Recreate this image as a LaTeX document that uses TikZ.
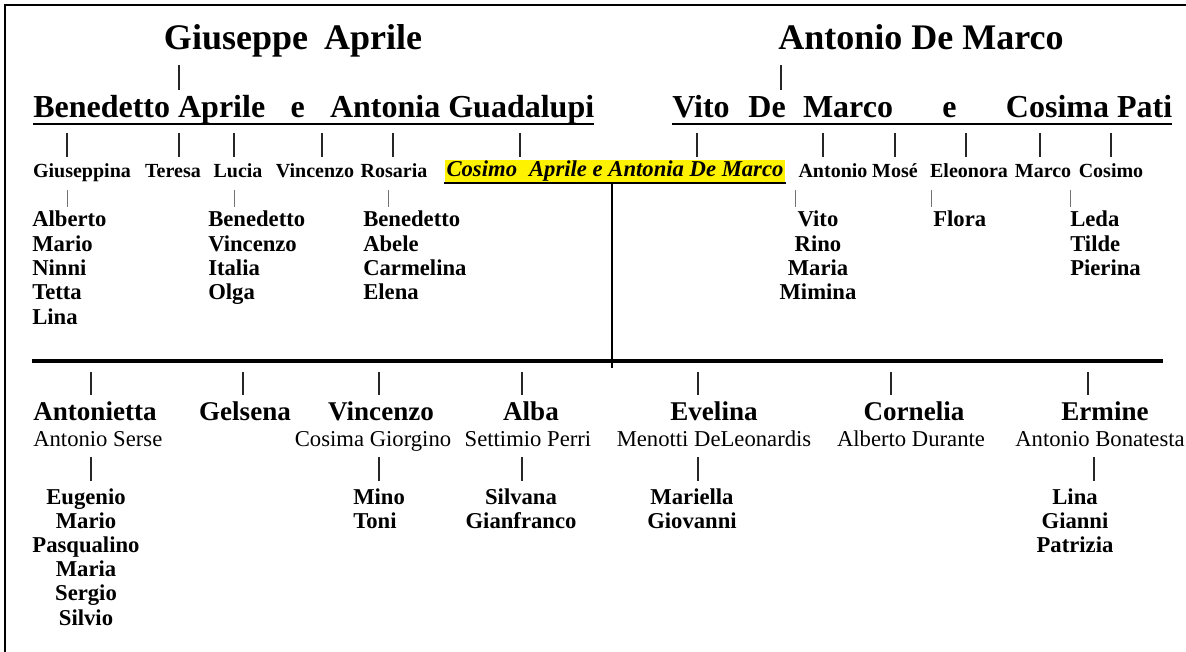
\documentclass[tikz,border=0pt]{standalone}
\usepackage{fontspec}
\setmainfont{Liberation Serif}
\begin{document}
\begin{tikzpicture}[x=0.75pt,y=-0.75pt,
  elder/.style={font=\fontsize{27}{30}\selectfont\bfseries, inner sep=0pt, anchor=base},
  couple/.style={font=\fontsize{24}{28}\selectfont\bfseries, inner sep=0pt, anchor=base west},
  child/.style={font=\fontsize{15}{18}\selectfont\bfseries, inner sep=0pt, anchor=base},
  grand/.style={font=\fontsize{17}{20}\selectfont\bfseries, inner sep=0pt},
  heir/.style={font=\fontsize{20.3}{24}\selectfont\bfseries, inner sep=0pt, anchor=base},
  spouse/.style={font=\fontsize{17}{20}\selectfont, inner sep=0pt, anchor=base},
  wedding/.style={font=\fontsize{17}{20}\selectfont\bfseries\itshape, fill=yellow, inner xsep=1.5pt, inner ysep=1pt, anchor=base},
  tick/.style={line width=0.9pt, black!85},
  twig/.style={line width=0.6pt, black!55},
  uline/.style={line width=2.2pt},
  bar/.style={line width=3pt}]
\useasboundingbox (0,0) rectangle (1186,652);

% Frame (top and left only)
\draw[line width=2.2pt] (5,652) -- (5,5) -- (1186,5);

% Great-grandparents
\node[elder] (gpA) at (293,50) {Giuseppe\hspace{12pt}Aprile};
\node[elder] (gpD) at (921,50) {Antonio De Marco};
\draw[tick] (179,65) -- (179,90);
\draw[tick] (781,65) -- (781,90);

% The two couples
\node[couple] (cplA) at (33,118) {Benedetto Aprile\hspace{19pt}e\hspace{19pt}Antonia Guadalupi};
\node[couple] (cplD) at (672,118) {Vito\hspace{14pt}De\hspace{13pt}Marco\hspace{37pt}e\hspace{37pt}Cosima Pati};
\draw[uline] ([yshift=-4.5pt]cplA.base west) -- ([yshift=-4.5pt]cplA.base east);
\draw[uline] ([yshift=-4.5pt]cplD.base west) -- ([yshift=-4.5pt]cplD.base east);

% Children
\foreach \x in {67,179,234,322,393,520,697,823,895,966,1040,1111}
  \draw[tick] (\x,133) -- (\x,157);
\foreach \nm/\x [count=\k] in {Giuseppina/82, Teresa/173, Lucia/238, Vincenzo/315, Rosaria/394,
    Antonio/833, Mos\'e/895, Eleonora/969, Marco/1043, Cosimo/1111}
  \node[child] (c\k) at (\x,178) {\nm};
\node[wedding] (cosimo) at (615,177) {Cosimo\hspace{9pt}Aprile e Antonia De Marco};
\draw[line width=1.6pt] (cosimo.south west) -- (cosimo.south east);

% Grandchildren
\foreach \x in {67,234,388,795,931,1070}
  \draw[twig] (\x,190) -- (\x,207);
\foreach \nm [count=\k] in {Alberto,Mario,Ninni,Tetta,Lina}
  \node[grand, anchor=base west] (ga\k) at (32,227+24.3*\k-24.3) {\nm};
\foreach \nm [count=\k] in {Benedetto,Vincenzo,Italia,Olga}
  \node[grand, anchor=base west] (gb\k) at (208,227+24.3*\k-24.3) {\nm};
\foreach \nm [count=\k] in {Benedetto,Abele,Carmelina,Elena}
  \node[grand, anchor=base west] (gc\k) at (363,227+24.3*\k-24.3) {\nm};
\foreach \nm [count=\k] in {Vito,Rino,Maria,Mimina}
  \node[grand, anchor=base] (gd\k) at (818,227+24.3*\k-24.3) {\nm};
\node[grand, anchor=base west] (ge1) at (933,227) {Flora};
\foreach \nm [count=\k] in {Leda,Tilde,Pierina}
  \node[grand, anchor=base west] (gf\k) at (1070,227+24.3*\k-24.3) {\nm};

% Line of descent of Cosimo and Antonia
\coordinate (stem) at (612,368);
\coordinate (barL) at (32,361);
\coordinate (barR) at (1163,361);
\draw[line width=2.2pt] (cosimo.south -| stem) -- (stem);
\draw[bar] (barL) -- (barR);

% Their children
\foreach \x in {91,243,379,522,698,891,1088}
  \draw[tick] (\x,372) -- (\x,395);
\foreach \nm/\x [count=\k] in {Antonietta/95, Gelsena/245, Vincenzo/381, Alba/531,
    Evelina/714, Cornelia/914, Ermine/1105}
  \node[heir] (h\k) at (\x,421) {\nm};
\node[spouse, anchor=base west] (s1) at (33,446) {Antonio Serse};
\node[spouse] (s3) at (373,446) {Cosima Giorgino};
\node[spouse] (s4) at (528,446) {Settimio Perri};
\node[spouse] (s5) at (714,446) {Menotti DeLeonardis};
\node[spouse] (s6) at (911,446) {Alberto Durante};
\node[spouse] (s7) at (1100,446) {Antonio Bonatesta};

% Grandchildren of Cosimo and Antonia
\foreach \x in {91,379,522,698,1094}
  \draw[tick] (\x,457) -- (\x,481);
\foreach \nm [count=\k] in {Eugenio,Mario,Pasqualino,Maria,Sergio,Silvio}
  \node[grand, anchor=base] (na\k) at (86,504+24.2*\k-24.2) {\nm};
\foreach \nm [count=\k] in {Mino,Toni}
  \node[grand, anchor=base west] (nb\k) at (353,504+24.2*\k-24.2) {\nm};
\foreach \nm [count=\k] in {Silvana,Gianfranco}
  \node[grand, anchor=base] (nc\k) at (521,504+24.2*\k-24.2) {\nm};
\foreach \nm [count=\k] in {Mariella,Giovanni}
  \node[grand, anchor=base] (nd\k) at (692,504+24.2*\k-24.2) {\nm};
\foreach \nm [count=\k] in {Lina,Gianni,Patrizia}
  \node[grand, anchor=base] (ne\k) at (1075,504+24.2*\k-24.2) {\nm};
\end{tikzpicture}
\end{document}
